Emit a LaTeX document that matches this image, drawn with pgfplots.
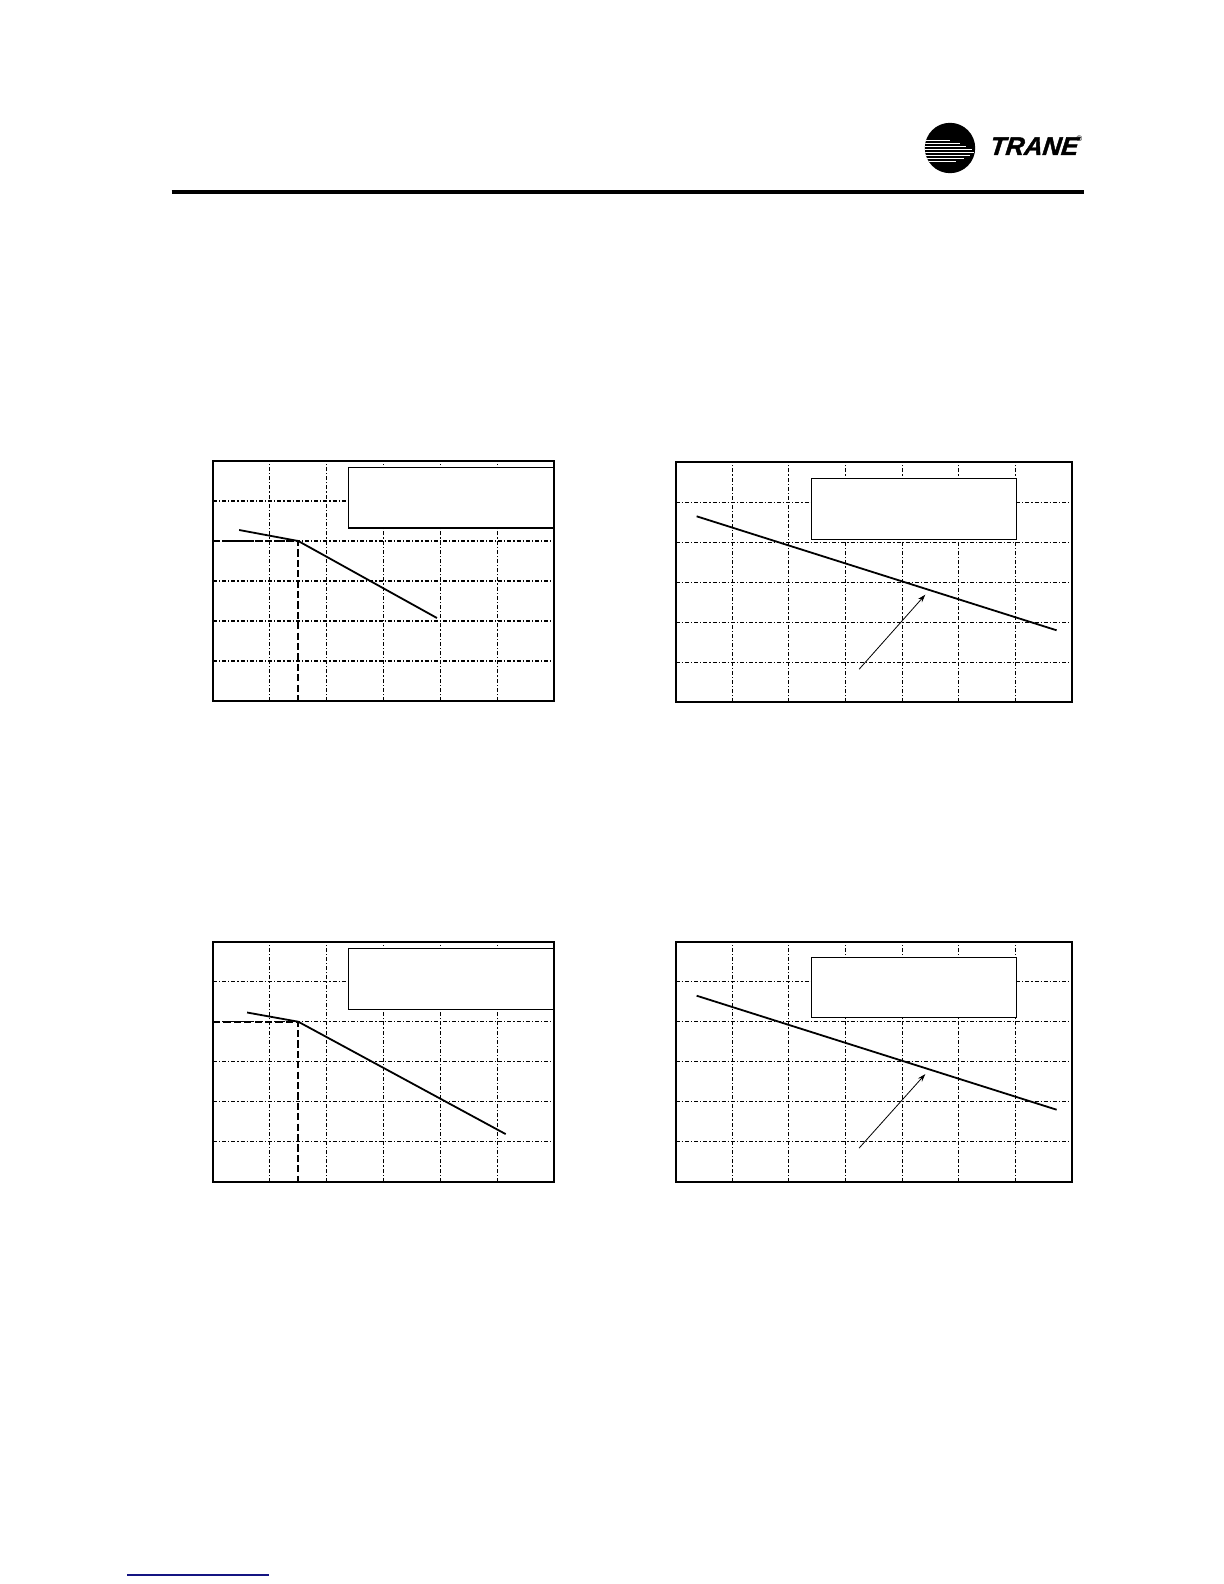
\documentclass[border=0pt]{standalone}
\usepackage{fontspec}
\setmainfont{Liberation Sans}
\newfontfamily\tranefont{Liberation Sans Bold Italic}[FakeBold=1.6, FakeSlant=0.12]
\usepackage{pgfplots}
\pgfplotsset{compat=1.18}
\usetikzlibrary{arrows.meta}

\definecolor{linkblue}{RGB}{20,20,130}

\pgfplotsset{
  chart/.style={
    scale only axis, anchor=north west, clip=false,
    xmin=0, ymin=0, ymax=6, ytick={0,...,6},
    height=120pt,
    grid=major,
    major grid style={black, line width=0.55pt, dash pattern=on 2pt off 1pt on 0.6pt off 1pt},
    xticklabels={}, yticklabels={}, major tick length=0pt,
    axis line style={line width=0.9pt},
  },
  curve/.style={black, line width=0.9pt, no marks},
  guide/.style={black, line width=0.95pt, no marks, dash pattern=on 3.6pt off 1.6pt},
  pointer/.style={black, line width=0.4pt, no marks, -{Stealth[length=4pt,width=2.6pt]}},
}
\tikzset{notebox/.style={line width=0.7pt, fill=white}}

\begin{document}
\begin{tikzpicture}
% page
\path[use as bounding box, fill=white] (0,0) rectangle (612pt,-792pt);

% header and footer marks, pixel units
\begin{scope}[x=0.5pt, y=-0.5pt]
  \draw[line width=2.1pt] (171.7,192) -- (1083.7,192);
  \fill (950,148) circle (12.6pt);
  \begin{scope}
    \clip (950,148) circle (12.6pt);
    \foreach \yy/\xe in {140/950, 143/960, 146/966, 149/972, 152/974, 155/970, 158/964, 161/956}
      \draw[white, line width=0.4pt] (915,\yy) -- (\xe,\yy);
  \end{scope}
  \node[anchor=base west, inner sep=0] at (989,155)
    {\fontsize{12.8}{12.8}\selectfont\tranefont TRANE};
  \node[anchor=base west, inner sep=0] at (1076,141)
    {\fontsize{4}{4}\selectfont\textregistered};
  \draw[linkblue, line width=0.6pt] (127,1575) -- (269,1575);
\end{scope}

% top left
\begin{axis}[chart, at={(106.5pt,-230.5pt)}, width=170.5pt, xmax=6, xtick={0,...,6}]
  \addplot[guide] coordinates {(0,4) (1.5,4) (1.5,0)};
  \addplot[curve] coordinates {(0.46,4.275) (1.5,4) (3.94,2.075)};
  \draw[notebox] (axis cs:2.38,5.84) rectangle (axis cs:6,4.33);
\end{axis}

% top right
\begin{axis}[chart, at={(337.85pt,-231.15pt)}, width=198.1pt, xmax=7, xtick={0,...,7}]
  \addplot[curve] coordinates {(0.37,4.65) (6.73,1.8)};
  \addplot[pointer] coordinates {(3.24,0.825) (4.41,2.69)};
  \draw[notebox] (axis cs:2.40,5.6) rectangle (axis cs:6.02,4.075);
\end{axis}

% bottom left
\begin{axis}[chart, at={(106.5pt,-470.85pt)}, width=170.5pt, xmax=6, xtick={0,...,6}]
  \addplot[guide] coordinates {(0,4) (1.5,4) (1.5,0)};
  \addplot[curve] coordinates {(0.60,4.23) (1.5,4) (5.15,1.19)};
  \draw[notebox] (axis cs:2.38,5.83) rectangle (axis cs:6,4.31);
\end{axis}

% bottom right
\begin{axis}[chart, at={(337.85pt,-470.85pt)}, width=198.1pt, xmax=7, xtick={0,...,7}]
  \addplot[curve] coordinates {(0.37,4.65) (6.73,1.8)};
  \addplot[pointer] coordinates {(3.24,0.84) (4.41,2.69)};
  \draw[notebox] (axis cs:2.40,5.6) rectangle (axis cs:6.02,4.1);
\end{axis}
\end{tikzpicture}
\end{document}
